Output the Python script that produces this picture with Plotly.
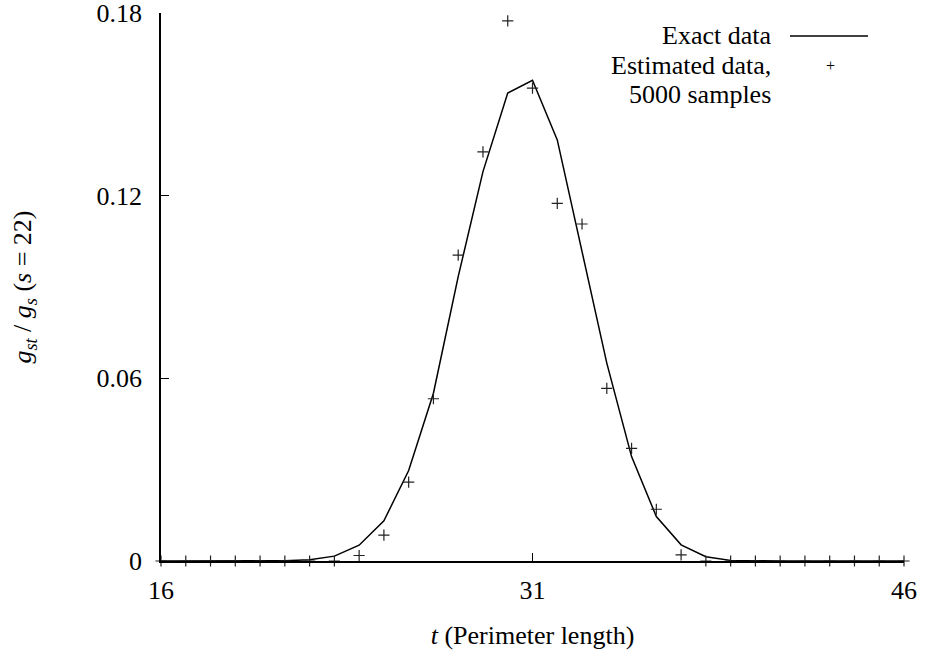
import plotly.graph_objects as go

# perimeter length t and the two series
t = list(range(16, 47))

exact = [
    0, 0, 0, 0, 0, 0.0001, 0.0004, 0.0016, 0.0052, 0.0132,
    0.0297, 0.0551, 0.0934, 0.1279, 0.1537, 0.1579, 0.1383, 0.1022,
    0.0650, 0.0343, 0.0146, 0.0053, 0.0014, 0.0002, 0, 0, 0, 0, 0, 0, 0,
]

estimated = [
    0, 0, 0, 0, 0, 0, 0, 0, 0.0018, 0.0085,
    0.0259, 0.0533, 0.1005, 0.1344, 0.1774, 0.1553, 0.1175, 0.1107,
    0.0567, 0.0370, 0.0170, 0.0020, 0, 0, 0, 0, 0, 0, 0, 0, 0,
]

x_ticks = [16, 31, 46]
y_ticks = [0, 0.06, 0.12, 0.18]
y_tick_text = ["0", "0.06", "0.12", "0.18"]

FONT = "Liberation Serif"
FS = 26

fig = go.Figure()

fig.add_trace(
    go.Scatter(
        x=t, y=exact, mode="lines",
        line=dict(color="black", width=1.5),
        name="Exact data", showlegend=False, cliponaxis=False,
    )
)
fig.add_trace(
    go.Scatter(
        x=t, y=estimated, mode="markers",
        marker=dict(symbol="cross-thin", size=8, line=dict(color="#222", width=1.2)),
        name="Estimated data, 5000 samples", showlegend=False, cliponaxis=False,
    )
)

# legend, drawn by hand: text right-aligned, sample on the right
def px_x(p):
    return (p - 161) / 743

def px_y(p):
    return (561 - p) / 548

fig.add_shape(
    type="line", xref="paper", yref="paper",
    x0=px_x(790), x1=px_x(868), y0=px_y(36), y1=px_y(36),
    line=dict(color="black", width=1.5),
)
legend_items = [
    ("Exact data", 36),
    ("Estimated data,", 65),
    ("5000 samples", 94),
]
for txt, py in legend_items:
    fig.add_annotation(
        text=txt, xref="paper", yref="paper", x=px_x(773), y=px_y(py),
        xanchor="right", yanchor="middle", showarrow=False,
        font=dict(family=FONT, size=FS, color="black"),
    )
fig.add_annotation(
    text="+", xref="paper", yref="paper", x=px_x(830), y=px_y(66),
    xanchor="center", yanchor="middle", showarrow=False,
    font=dict(family=FONT, size=16, color="black"),
)

fig.update_layout(
    width=925, height=650,
    margin=dict(l=161, r=21, t=13, b=89),
    plot_bgcolor="white", paper_bgcolor="white",
    font=dict(family=FONT, size=FS, color="black"),
    xaxis=dict(
        range=[16, 46], tickvals=x_ticks, ticks="inside", ticklen=8,
        tickwidth=1.2, tickcolor="black", automargin=False,
        showline=True, linecolor="black", linewidth=1.5,
        showgrid=False, zeroline=False, ticklabelstandoff=5,
        ticklabeloverflow="allow",
        title=dict(text="<i>t</i> (Perimeter length)", standoff=23,
                   font=dict(family=FONT, size=FS)),
    ),
    yaxis=dict(
        range=[0, 0.18], tickvals=y_ticks, ticktext=y_tick_text,
        ticks="inside", ticklen=8, tickwidth=1.2, tickcolor="black",
        automargin=False, ticklabeloverflow="allow",
        showline=True, linecolor="black", linewidth=1.5,
        showgrid=False, zeroline=False, ticklabelstandoff=12,
        title=dict(
            text="<i>g<sub>st</sub></i> / <i>g<sub>s</sub></i> (<i>s</i> = 22)",
            standoff=57, font=dict(family=FONT, size=FS),
        ),
    ),
)

# the page has a default body margin; drop it so the figure sits at 0,0
fig.write_html(
    "out.html",
    config={"displayModeBar": False},
    post_script="document.body.style.margin='0';",
)
